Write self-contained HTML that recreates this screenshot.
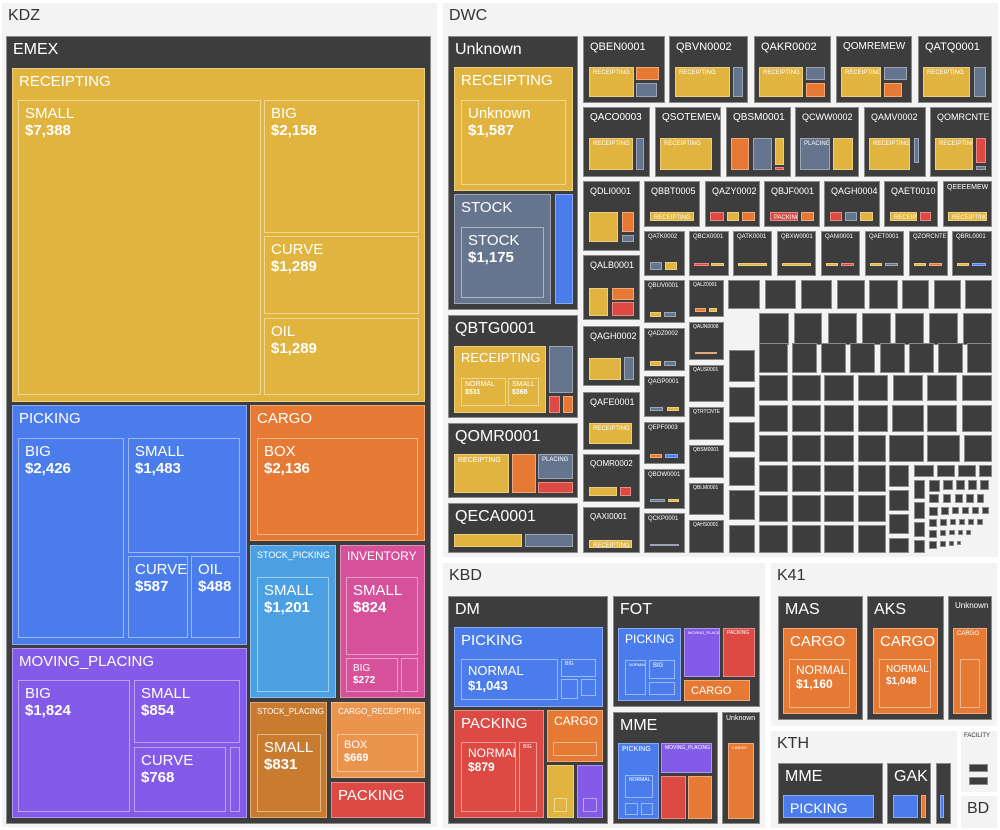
<!DOCTYPE html>
<html><head><meta charset="utf-8">
<style>
html,body{margin:0;padding:0;background:#fff;}
#root{position:relative;width:1000px;height:830px;overflow:hidden;font-family:"Liberation Sans",sans-serif;}
.r{position:absolute;box-sizing:border-box;overflow:hidden;color:#fff;line-height:1.15;white-space:nowrap;}
.p{background:#f3f3f3;color:#333;}
.d{background:#3d3d3d;border:1px solid #8a8a8a;}
.i{border:1px solid rgba(255,255,255,.45);}
.c{border:1px solid rgba(255,255,255,.35);}
.lb{position:absolute;left:6px;top:4px;}
.vl{font-weight:bold;display:block;}
</style></head><body>
<div id="root"></div>
<script>
// treemap leaf data (labels and values)
const leafLabels = ["SMALL","BIG","CURVE","OIL","BIG","SMALL","CURVE","OIL","BOX","SMALL","SMALL","BIG","BIG","SMALL","CURVE","SMALL","BOX","Unknown","STOCK","NORMAL","SMALL","NORMAL","NORMAL","NORMAL","NORMAL"];
const leafValues = [7388,2158,1289,1289,2426,1483,587,488,2136,1201,824,272,1824,854,768,831,669,1587,1175,531,368,1043,879,1160,1048];
const fmt = v => "$" + v.toLocaleString("en-US");
const C={Y:"#e0b43e",B:"#4a7deb",O:"#e67a34",P:"#845be9",R:"#dc4a43",K:"#d6519a",L:"#4aa0e2",W:"#c97c2f",Q:"#eb944e",S:"#66758e"};
const root=document.getElementById('root');
function R(x1,y1,x2,y2,t,name,label,val,fs){
  const el=document.createElement('div');
  
  
  let cls='r ';
  if(t==='p')cls+='p';else if(t==='d')cls+='d';else if(t==='i')cls+='i';else{cls+='c';el.style.background=C[t];}
  el.className=cls;
  el.style.left=x1+'px';el.style.top=y1+'px';el.style.width=(x2-x1)+'px';el.style.height=(y2-y1)+'px';
  if(label){
    const s=document.createElement('div');s.className='lb';
    s.style.fontSize=(fs||8)+'px';
    if(fs<8){s.style.left='3px';s.style.top='2px';}
    s.textContent=label;
    if(val!==undefined&&val!==null){const b=document.createElement('span');b.className='vl';b.textContent=fmt(val);s.appendChild(b);}
    el.appendChild(s);
  }
  root.appendChild(el);return el;
}
function V(i){return leafValues[i];}
function L(i){return leafLabels[i];}
// panels
R(2,3,437,827,'p','kdz-panel','KDZ',null,16);
R(443,3,998,557,'p','dwc-panel','DWC',null,16);
R(443,563,765,828,'p','kbd-panel','KBD',null,16);
R(771,563,997,726,'p','k41-panel','K41',null,16);
R(771,731,957,828,'p','kth-panel','KTH',null,16);
R(961,731,997,792,'p','facility-panel','FACILITY',null,6);
R(961,796,997,828,'p','bd-panel','BD',null,16);
// KDZ
R(6,36,431,824,'d','emex-group','EMEX',null,16);
R(12,68,425,402,'Y','receipting-group','RECEIPTING',null,15);
R(18,100,261,395,'i','receipting-small',L(0),V(0),15);
R(264,100,419,233,'i','receipting-big',L(1),V(1),15);
R(264,236,419,314,'i','receipting-curve',L(2),V(2),15);
R(264,318,419,395,'i','receipting-oil',L(3),V(3),15);
R(12,405,247,645,'B','picking-group','PICKING',null,15);
R(18,438,124,638,'i','picking-big',L(4),V(4),15);
R(128,438,240,553,'i','picking-small',L(5),V(5),15);
R(128,556,188,638,'i','picking-curve',L(6),V(6),15);
R(191,556,240,638,'i','picking-oil',L(7),V(7),15);
R(250,405,425,541,'O','cargo-group','CARGO',null,15);
R(257,438,418,535,'i','cargo-box',L(8),V(8),15);
R(250,545,336,698,'L','stock-picking-group','STOCK_PICKING',null,9);
R(257,577,329,692,'i','stock-picking-small',L(9),V(9),15);
R(340,545,425,698,'K','inventory-group','INVENTORY',null,12);
R(346,577,418,655,'i','inventory-small',L(10),V(10),15);
R(346,658,398,692,'i','inventory-big',L(11),V(11),10);
R(401,658,418,692,'i','inventory-other');
R(12,648,247,818,'P','moving-placing-group','MOVING_PLACING',null,15);
R(18,680,130,812,'i','moving-big',L(12),V(12),15);
R(134,680,240,743,'i','moving-small',L(13),V(13),15);
R(134,747,226,812,'i','moving-curve',L(14),V(14),15);
R(230,747,240,812,'i','moving-other');
R(250,702,327,818,'W','stock-placing-group','STOCK_PLACING',null,8);
R(257,734,321,812,'i','stock-placing-small',L(15),V(15),15);
R(331,702,425,778,'Q','cargo-receipting-group','CARGO_RECEIPTING',null,8);
R(337,734,418,772,'i','cargo-receipting-box',L(16),V(16),11);
R(331,782,425,818,'R','packing-group','PACKING',null,15);
// DWC big
R(448,36,578,310,'d','unknown-group','Unknown',null,16);
R(454,67,573,191,'Y','unknown-receipting','RECEIPTING',null,15);
R(461,100,566,185,'i','unknown-leaf',L(17),V(17),15);
R(454,194,551,304,'S','stock-group','STOCK',null,15);
R(461,227,544,298,'i','stock-leaf',L(18),V(18),15);
R(555,194,573,304,'B','stock-blue');
R(448,315,578,418,'d','qbtg0001-group','QBTG0001',null,16);
R(454,346,546,413,'Y','qbtg-receipting','RECEIPTING',null,13);
R(461,378,506,406,'i','qbtg-normal',L(19),V(19),7);
R(508,378,539,406,'i','qbtg-small',L(20),V(20),7);
R(549,346,573,393,'S','qbtg-gray');
R(549,396,560,413,'R','qbtg-red');
R(563,396,573,413,'O','qbtg-orange');
R(448,423,578,498,'d','qomr0001-group','QOMR0001',null,16);
R(454,454,509,493,'Y','qomr-receipting','RECEIPTING',null,7);
R(512,454,536,493,'O','qomr-orange');
R(538,454,573,479,'S','qomr-placing','PLACING',null,6);
R(538,482,573,493,'R','qomr-red');
R(448,503,578,553,'d','qeca0001-group','QECA0001',null,16);
R(454,534,522,547,'Y','qeca-yellow');
R(525,534,573,547,'S','qeca-gray');
// DWC small groups with inner marks
const groups=[
 [583,36,665,103,'QBEN0001',11,[[589,67,634,97,'Y','RECEIPTING'],[636,67,659,80,'O'],[636,83,657,97,'S']]],
 [669,36,748,103,'QBVN0002',11,[[675,67,730,97,'Y','RECEIPTING'],[733,67,743,97,'S']]],
 [754,36,831,103,'QAKR0002',11,[[759,67,803,97,'Y','RECEIPTING'],[806,67,825,80,'S'],[806,83,825,97,'O']]],
 [836,36,912,103,'QOMREMEW',10,[[841,67,881,97,'Y','RECEIPTING'],[884,67,907,80,'S'],[884,83,902,97,'O']]],
 [918,36,992,103,'QATQ0001',11,[[923,67,970,97,'Y','RECEIPTING'],[974,67,986,97,'S']]],
 [583,107,650,177,'QACO0003',10,[[589,138,633,170,'Y','RECEIPTING'],[636,138,644,170,'S']]],
 [655,107,721,177,'QSOTEMEW',10,[[660,138,712,170,'Y','RECEIPTING']]],
 [726,107,791,177,'QBSM0001',10,[[731,138,749,170,'O'],[753,138,772,170,'S'],[775,138,784,165,'Y'],[775,167,784,170,'R']]],
 [795,107,859,177,'QCWW0002',9,[[800,138,830,170,'S','PLACING'],[833,138,853,170,'Y']]],
 [864,107,926,177,'QAMV0002',9,[[869,138,910,170,'Y','RECEIPTING'],[914,138,919,163,'S']]],
 [930,107,992,177,'QOMRCNTE',9,[[935,138,973,170,'Y','RECEIPTING'],[976,138,986,163,'R'],[976,166,986,170,'S']]],
 [583,181,640,251,'QDLI0001',9,[[589,212,618,242,'Y'],[622,212,634,232,'O'],[622,235,634,242,'S']]],
 [644,181,700,227,'QBBT0005',9,[[650,212,694,221,'Y','RECEIPTING']]],
 [705,181,760,227,'QAZY0002',9,[[710,212,724,221,'R'],[727,212,739,221,'Y'],[742,212,755,221,'O']]],
 [764,181,820,227,'QBJF0001',9,[[770,212,798,221,'R','PACKING'],[801,212,814,221,'O']]],
 [824,181,880,227,'QAGH0004',9,[[830,212,842,221,'R'],[845,212,857,221,'S'],[860,212,873,221,'Y']]],
 [884,181,938,227,'QAET0010',9,[[890,212,917,221,'Y','RECEIPTING'],[920,212,931,221,'R']]],
 [943,181,992,227,'QEEEEMEW',7,[[948,212,987,221,'Y','RECEIPTING']]],
 [644,231,685,276,'QATK0002',6,[[650,262,662,270,'S'],[665,262,677,270,'Y']]],
 [689,231,729,276,'QBCX0001',6,[[694,263,709,266,'R'],[711,263,724,266,'Y']]],
 [733,231,772,276,'QATK0001',6,[[738,263,767,266,'Y']]],
 [777,231,816,276,'QBXW0001',6,[[782,263,811,266,'Y']]],
 [821,231,860,276,'QANI0001',6,[[826,263,838,266,'Y'],[841,263,854,266,'R']]],
 [865,231,904,276,'QAET0001',6,[[870,263,882,266,'Y'],[885,263,898,266,'S']]],
 [909,231,948,276,'QZORCNTE',6,[[914,263,926,266,'Y'],[929,263,942,266,'O']]],
 [952,231,992,276,'QBRL0001',6,[[957,263,969,266,'Y'],[972,263,986,266,'B']]],
 [583,255,640,320,'QALB0001',9,[[589,288,608,316,'Y'],[612,288,634,300,'O'],[612,302,634,316,'R']]],
 [583,326,640,386,'QAGH0002',9,[[589,358,621,380,'Y'],[624,357,634,380,'S']]],
 [583,392,640,450,'QAFE0001',9,[[589,423,632,444,'Y','RECEIPTING']]],
 [583,454,640,502,'QOMR0002',8,[[589,487,617,496,'Y'],[620,487,631,496,'R']]],
 [583,507,640,553,'QAXI0001',8,[[589,540,632,548,'Y','RECEIPTING']]],
 [644,280,685,323,'QBUV0001',6,[[650,312,661,317,'Y'],[664,312,676,317,'S']]],
 [644,328,685,371,'QADZ0002',6,[[650,361,661,366,'Y'],[664,361,676,366,'S']]],
 [644,376,685,417,'QAGP0001',6,[[650,407,663,411,'S'],[667,407,679,411,'Y']]],
 [644,422,685,464,'QEPF0003',6,[[650,454,662,458,'O'],[665,454,678,458,'B']]],
 [644,469,685,509,'QBOW0001',6,[[650,499,665,502,'S'],[668,499,679,502,'Y']]],
 [644,513,685,553,'QCKP0001',6,[[650,544,679,546,'S']]],
 [689,280,724,317,'QALZ0001',5,[[695,308,706,312,'O'],[709,308,717,312,'Y']]],
 [689,322,724,360,'QAUN0008',5,[[695,352,717,354,'W']]],
 [689,365,724,402,'QAUS0001',5,[]],
 [689,407,724,440,'QTRTCNTE',5,[]],
 [689,445,724,478,'QBSM0001',5,[]],
 [689,483,724,515,'QBLM0001',5,[]],
 [689,520,724,553,'QAHS0001',5,[]]
];
groups.forEach((g,k)=>{
  R(g[0],g[1],g[2],g[3],'d','dwc-group-'+g[4].toLowerCase(),g[4],null,g[5]);
  g[6].forEach((m,j)=>{R(m[0],m[1],m[2],m[3],m[4],'dwc-cell-'+k+'-'+j,m[5]||'',null,6);});
});
// grid of small dark groups
const rowsDef=[
 [280,309,[[728,760],[765,796],[801,832],[837,865],[869,898],[902,929],[934,961],[965,992]]],
 [313,345,[[729,755],[759,789],[794,822],[828,857],[862,891],[895,924],[929,958],[963,992]]],
 [343,373,[[759,788],[792,817],[821,846],[850,875],[880,905],[909,934],[938,963],[967,992]]],
 [375,401,[[759,788],[792,821],[824,854],[858,888],[893,923],[927,957],[962,992]]],
 [405,432,[[759,788],[792,821],[824,854],[858,888],[892,924],[927,957],[962,992]]],
 [435,462,[[759,788],[792,821],[824,854],[858,886],[889,924],[927,960],[964,992]]],
 [465,492,[[759,788],[792,821],[824,854],[858,886]]],
 [495,522,[[759,788],[792,821],[824,854],[858,886]]],
 [525,553,[[759,788],[792,821],[824,854],[858,886]]]
];
const colD=[[350,382],[387,417],[422,452],[457,486],[490,520],[525,553]];
colD.forEach((r,i)=>{R(729,r[0],755,r[1],'d','dwc-small-d'+i,'·',null,4);});
rowsDef.forEach((rw,i)=>{rw[2].forEach((c,j)=>{if(i===1&&j===0)return;R(c[0],rw[0],c[1],rw[1],'d','dwc-small-'+i+'-'+j,'',null,4);});});
// tiny region
const tiny=[[889,465,909,487],[889,490,909,511],[889,514,909,534],[889,538,909,553],
 [914,465,934,477],[937,465,955,477],[958,465,976,477],[979,465,992,477],
 [914,480,925,499],[914,502,925,519],[914,522,925,537],[914,540,925,553],
 [929,480,940,492],[943,480,953,490],[956,480,965,490],[968,480,977,490],[980,480,989,490],
 [929,494,939,503],[943,494,951,503],[955,494,963,503],[966,494,974,503],[977,494,984,503],
 [929,507,938,516],[941,507,949,515],[952,507,959,514],[962,507,969,514],[972,507,979,514],[982,507,989,514],
 [929,519,937,527],[940,519,947,526],[950,519,956,525],[959,519,965,525],[968,519,974,525],[977,519,983,525],
 [929,530,937,538],[940,530,946,536],[949,530,955,535],[958,530,963,535],[966,530,971,535],
 [929,541,937,549],[940,541,946,547],[949,541,954,546],[957,541,961,545]];
tiny.forEach((t,i)=>{R(t[0],t[1],t[2],t[3],'d','dwc-tiny-'+i);});
// KBD
R(448,596,608,824,'d','dm-group','DM',null,16);
R(454,627,603,707,'B','dm-picking','PICKING',null,15);
R(461,659,558,700,'i','dm-picking-normal',L(21),V(21),13);
R(561,659,596,677,'i','dm-picking-big','BIG',null,5);
R(561,679,578,699,'i','dm-picking-s1');
R(581,679,596,696,'i','dm-picking-s2');
R(454,710,544,818,'R','dm-packing','PACKING',null,15);
R(461,742,516,812,'i','dm-packing-normal',L(22),V(22),12);
R(519,742,537,812,'i','dm-packing-big','BIG',null,5);
R(547,710,603,762,'O','dm-cargo','CARGO',null,12);
R(553,742,597,756,'i','dm-cargo-inner');
R(547,765,574,818,'Y','dm-yellow');R(554,798,567,812,'i','dm-yellow-inner');
R(577,765,603,818,'P','dm-purple');R(583,798,597,812,'i','dm-purple-inner');
R(613,596,760,707,'d','fot-group','FOT',null,16);
R(618,628,681,701,'B','fot-picking','PICKING',null,12);
R(625,660,646,695,'i','fot-normal','NORMAL',null,4);
R(649,660,675,679,'i','fot-big','BIG',null,6);
R(649,682,675,695,'i','fot-small');
R(684,628,720,677,'P','fot-moving','MOVING_PLACING',null,4);
R(723,628,755,677,'R','fot-packing','PACKING',null,5);
R(684,680,750,701,'O','fot-cargo','CARGO',null,11);
R(613,712,718,824,'d','mme-group','MME',null,16);
R(618,743,659,819,'B','mme-picking','PICKING',null,7);
R(625,775,653,798,'i','mme-normal','NORMAL',null,5);
R(625,803,638,815,'i','mme-s1');R(641,803,653,815,'i','mme-s2');
R(661,743,712,773,'P','mme-moving','MOVING_PLACING',null,5);
R(661,776,686,819,'R','mme-red');
R(688,776,712,819,'O','mme-orange');
R(722,712,760,824,'d','kbd-unknown','Unknown',null,7);
R(728,743,754,819,'O','kbd-unknown-cargo','CARGO',null,4);
// K41
R(778,596,863,720,'d','mas-group','MAS',null,16);
R(783,628,857,714,'O','mas-cargo','CARGO',null,15);
R(789,659,850,708,'i','mas-normal',L(23),V(23),12);
R(867,596,944,720,'d','aks-group','AKS',null,16);
R(873,628,938,714,'O','aks-cargo','CARGO',null,15);
R(879,659,931,708,'i','aks-normal',L(24),V(24),10);
R(948,596,992,720,'d','k41-unknown','Unknown',null,8);
R(953,628,987,714,'O','k41-unknown-cargo','CARGO',null,6);
R(960,659,980,708,'i','k41-unknown-inner');
// KTH
R(778,763,883,824,'d','kth-mme','MME',null,16);
R(783,795,874,818,'B','kth-picking','PICKING',null,14);
R(887,763,931,824,'d','gak-group','GAK',null,16);
R(893,795,918,818,'B','gak-blue');
R(921,795,926,818,'O','gak-orange');
R(936,763,951,824,'d','kth-other');
R(940,795,944,818,'B','kth-other-blue');
R(969,764,988,772,'d','facility-box-1');
R(969,777,988,785,'d','facility-box-2');
</script>
</body></html>
